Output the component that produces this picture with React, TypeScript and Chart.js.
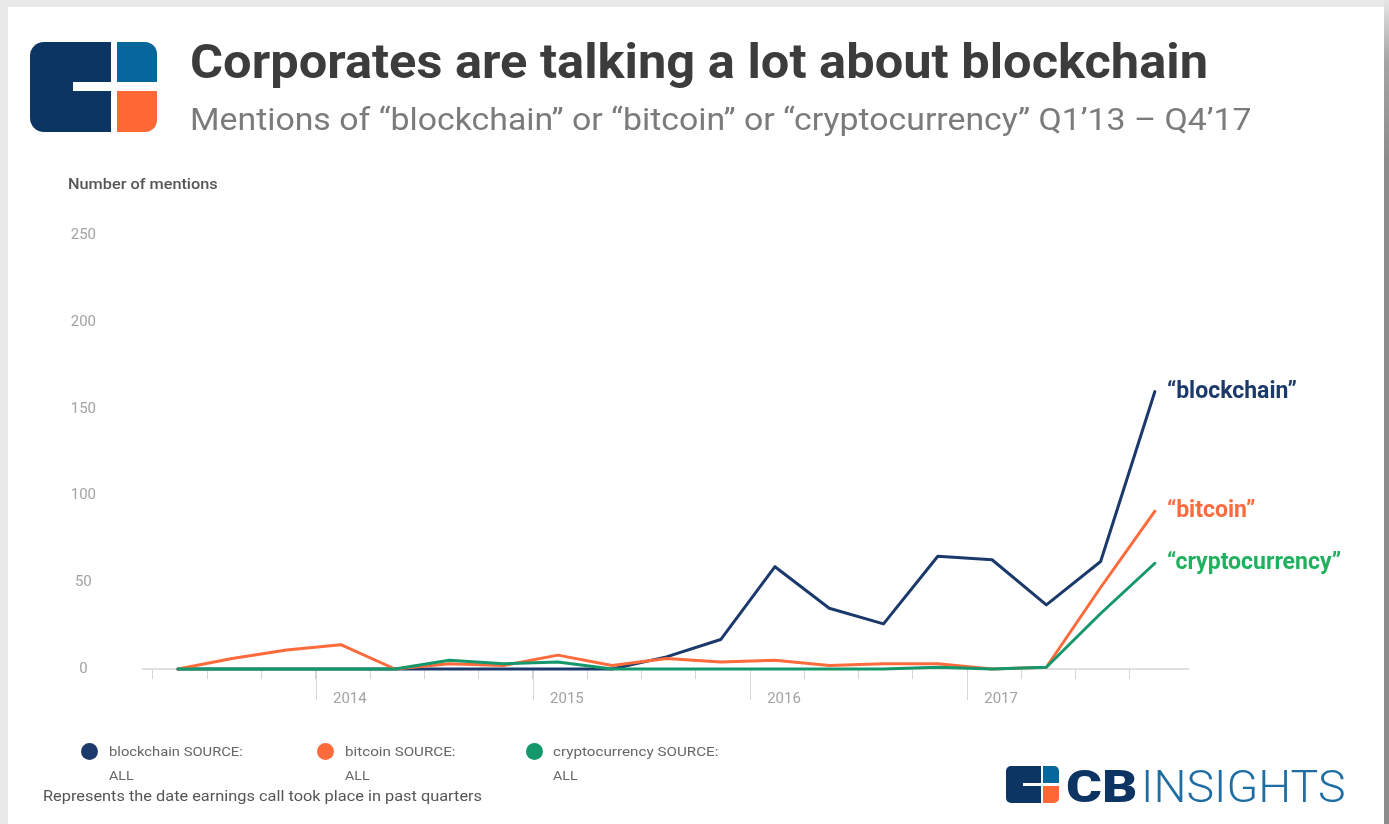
import React, { useEffect, useLayoutEffect, useRef, useState } from "react";
import { Chart, registerables } from "chart.js";

Chart.register(...registerables);

// ---- data ----
const CALL_QUARTERS = [
  "Q2'13", "Q3'13", "Q4'13", "Q1'14", "Q2'14", "Q3'14", "Q4'14", "Q1'15", "Q2'15", "Q3'15",
  "Q4'15", "Q1'16", "Q2'16", "Q3'16", "Q4'16", "Q1'17", "Q2'17", "Q3'17", "Q4'17",
];
const BLOCKCHAIN = [0, 0, 0, 0, 0, 0, 0, 0, 0, 7, 17, 59, 35, 26, 65, 63, 37, 62, 160];
const BITCOIN = [0, 6, 11, 14, 0, 3, 2, 8, 2, 6, 4, 5, 2, 3, 3, 0, 1, 47, 91];
const CRYPTOCURRENCY = [0, 0, 0, 0, 0, 5, 3, 4, 0, 0, 0, 0, 0, 0, 1, 0, 1, 32, 61];
const SERIES_NAMES = ["blockchain", "bitcoin", "cryptocurrency"];
const Y_TICKS = [0, 50, 100, 150, 200, 250];
const QUARTER_TICKS = [1, 2, 3, 4, 5, 6, 7, 8, 9, 10, 11, 12, 13, 14, 15, 16, 17, 18, 19];
const YEAR_TICKS = [4, 8, 12, 16];
const YEAR_LABELS = ["2014", "2015", "2016", "2017"];

// ---- styles ----
const LINE_COLORS = ["#1b3a6b", "#fd6a3b", "#14976a"];
const LABEL_COLORS = ["#1b3a6b", "#fd6a3b", "#1fb15e"];
const LABEL_WIDTHS = [133, 90, 176];
const CALL_OFFSET = 1.46; // earnings calls fall mid-quarter, quarter 0 = Q1'13

function FitText(props: {
  text: string; x: number; base: number; w: number; size: number;
  weight?: number; color: string; family?: string;
}) {
  const { text, x, base, w, size, weight = 400, color, family = "Roboto" } = props;
  const ref = useRef<HTMLDivElement>(null);
  const [sx, setSx] = useState(1);
  useLayoutEffect(() => {
    const measure = () => {
      const el = ref.current;
      if (el && el.offsetWidth) setSx(w / el.offsetWidth);
    };
    measure();
    const f = (document as any).fonts;
    if (f && f.ready) f.ready.then(measure);
  }, [text, w, size]);
  return (
    <div
      ref={ref}
      style={{
        position: "absolute",
        left: x,
        top: base - 0.8415 * size,
        fontFamily: family,
        fontSize: size,
        fontWeight: weight,
        color,
        lineHeight: `${size}px`,
        whiteSpace: "nowrap",
        transform: `scaleX(${sx})`,
        transformOrigin: "0 0",
      }}
    >
      {text}
    </div>
  );
}

function Box(p: { l: number; t: number; w: number; h: number; bg: string; r?: string }) {
  return (
    <div
      style={{
        position: "absolute", left: p.l, top: p.t, width: p.w, height: p.h,
        background: p.bg, borderRadius: p.r || 0,
      }}
    />
  );
}

export default function App() {
  const canvasRef = useRef<HTMLCanvasElement>(null);

  useEffect(() => {
    const canvas = canvasRef.current;
    if (!canvas) return;
    Chart.defaults.font.family = "Roboto";

    const series = [BLOCKCHAIN, BITCOIN, CRYPTOCURRENCY];

    const yearTicks = {
      id: "yearTicks",
      beforeDatasetsDraw(chart: any) {
        const sx = chart.scales.x;
        const c = chart.ctx;
        c.save();
        c.strokeStyle = "#d6d6d6";
        c.lineWidth = 1;
        YEAR_TICKS.forEach((v) => {
          const px = Math.round(sx.getPixelForValue(v)) + 0.5;
          c.beginPath();
          c.moveTo(px, sx.top);
          c.lineTo(px, sx.top + 31);
          c.stroke();
        });
        c.restore();
      },
    };

    const endLabels = {
      id: "endLabels",
      afterDatasetsDraw(chart: any) {
        const c = chart.ctx;
        chart.data.datasets.forEach((_: any, i: number) => {
          const meta = chart.getDatasetMeta(i);
          const pt = meta.data[meta.data.length - 1];
          c.save();
          c.font = "bold 23px Roboto";
          c.fillStyle = LABEL_COLORS[i];
          c.textBaseline = "alphabetic";
          c.textAlign = "left";
          c.fillText(`\u201C${SERIES_NAMES[i]}\u201D`, pt.x + 12, pt.y + 6, LABEL_WIDTHS[i]);
          c.restore();
        });
      },
    };

    const chart = new Chart(canvas, {
      type: "line",
      data: {
        datasets: series.map((vals, i) => ({
          label: SERIES_NAMES[i],
          data: vals.map((v, k) => ({ x: k + CALL_OFFSET, y: v, q: CALL_QUARTERS[k] })),
          borderColor: LINE_COLORS[i],
          backgroundColor: LINE_COLORS[i],
          borderWidth: 3,
          pointRadius: 0,
          tension: 0,
          fill: false,
          order: 3 - i,
          clip: 6,
        })),
      },
      options: {
        animation: false,
        responsive: false,
        layout: { padding: { left: 68, right: 201, top: 235.5, bottom: 105 } },
        plugins: {
          legend: { display: false },
          tooltip: { enabled: false },
        },
        elements: { line: { borderJoinStyle: "round", borderCapStyle: "round" } },
        scales: {
          x: {
            type: "linear",
            min: 0.816,
            max: 20.07,
            afterBuildTicks: (s: any) => {
              s.ticks = QUARTER_TICKS.map((v) => ({ value: v }));
            },
            afterFit: (s: any) => {
              s.height = 50;
            },
            grid: {
              display: true,
              drawOnChartArea: false,
              drawTicks: true,
              tickLength: 10,
              color: "#d6d6d6",
              lineWidth: 1,
            },
            border: { display: true, color: "#e0e0e0", width: 2 },
            ticks: {
              autoSkip: false,
              maxRotation: 0,
              padding: 11,
              labelOffset: 34,
              color: "#a3a3a3",
              font: { size: 15 },
              callback: (v: any) => {
                const k = YEAR_TICKS.indexOf(Number(v));
                return k >= 0 ? YEAR_LABELS[k] : "";
              },
            },
          },
          y: {
            min: 0,
            max: 250,
            afterBuildTicks: (s: any) => {
              s.ticks = Y_TICKS.map((v) => ({ value: v }));
            },
            afterFit: (s: any) => {
              s.width = 75;
            },
            grid: { display: false, drawTicks: false },
            border: { display: false },
            ticks: {
              crossAlign: "center",
              padding: 47,
              color: "#a3a3a3",
              font: { size: 15 },
            },
          },
        },
      } as any,
      plugins: [yearTicks, endLabels],
    });
    return () => chart.destroy();
  }, []);

  const legendItems = [
    { cx: 89, tx: 109, w: 134, name: "blockchain SOURCE:", color: LINE_COLORS[0] },
    { cx: 325, tx: 345, w: 111, name: "bitcoin SOURCE:", color: LINE_COLORS[1] },
    { cx: 534, tx: 553, w: 165, name: "cryptocurrency SOURCE:", color: LINE_COLORS[2] },
  ];

  return (
    <div
      style={{
        position: "absolute", left: 0, top: 0, width: 1389, height: 824,
        background: "#e9e9e9", overflow: "hidden", fontFamily: "Roboto",
      }}
    >
      <div style={{ position: "absolute", left: 8, top: 7, width: 1376, height: 817, background: "#fff" }} />
      <div
        style={{
          position: "absolute", left: 1384, top: 0, width: 5, height: 824,
          background: "linear-gradient(to bottom, #e6e6e6 0px, #a5a5a5 60px, #8c8c8c 160px, #8c8c8c 100%)",
        }}
      />

      <canvas
        ref={canvasRef}
        width={1389}
        height={824}
        style={{ position: "absolute", left: 0, top: 0, width: 1389, height: 824 }}
      />

      {/* top-left logo */}
      <Box l={30} t={42} w={81} h={90} bg="#0d3563" r="14px 0 0 14px" />
      <Box l={73} t={82} w={38} h={9} bg="#ffffff" />
      <Box l={117} t={42} w={40} h={40} bg="#05679c" r="0 12px 0 0" />
      <Box l={117} t={91} w={40} h={41} bg="#fe6835" r="0 0 12px 0" />

      <FitText text="Corporates are talking a lot about blockchain" x={190} base={78} w={1018} size={49} weight={700} color="#3c3c3c" />
      <FitText
        text={"Mentions of \u201Cblockchain\u201D or \u201Cbitcoin\u201D or \u201Ccryptocurrency\u201D Q1\u201913 \u2013 Q4\u201917"}
        x={190} base={130} w={1062} size={32} weight={400} color="#7b7b7b"
      />
      <FitText text="Number of mentions" x={68} base={189} w={150} size={14} weight={500} color="#555555" />

      {/* legend */}
      {legendItems.map((it) => (
        <React.Fragment key={it.name}>
          <div
            style={{
              position: "absolute", left: it.cx - 8.5, top: 751 - 8.5, width: 17, height: 17,
              borderRadius: "50%", background: it.color,
            }}
          />
          <FitText text={it.name} x={it.tx} base={756} w={it.w} size={13} color="#666666" />
          <FitText text="ALL" x={it.tx} base={780} w={24} size={13} color="#666666" />
        </React.Fragment>
      ))}
      <FitText text="Represents the date earnings call took place in past quarters" x={43} base={801} w={439} size={14} color="#555555" />

      {/* bottom-right logo */}
      <Box l={1006} t={766} w={35} h={37} bg="#0d3563" r="5px 0 0 5px" />
      <Box l={1023} t={783} w={18} h={3} bg="#ffffff" />
      <Box l={1043} t={766} w={16} h={17} bg="#05679c" r="0 5px 0 0" />
      <Box l={1043} t={786} w={16} h={17} bg="#fe6835" r="0 0 5px 0" />
      <FitText text="CB" x={1066} base={802} w={71} size={44} weight={900} color="#0d3563" />
      <FitText text="INSIGHTS" x={1141} base={802} w={204} size={44} weight={300} color="#1f6ea3" />
    </div>
  );
}
